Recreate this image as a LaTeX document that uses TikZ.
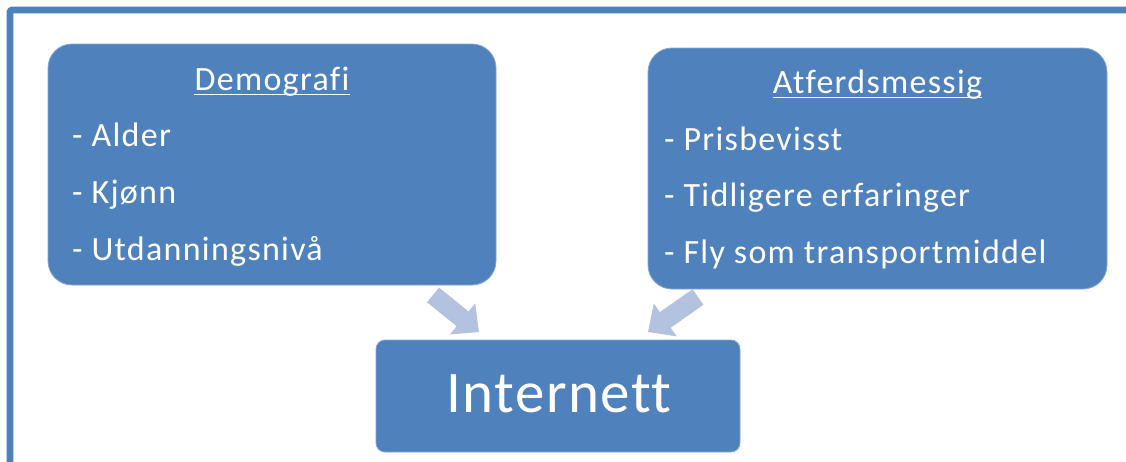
\documentclass[tikz,border=0pt]{standalone}
\usepackage{fontspec}
\setmainfont{Carlito}[Ligatures=NoCommon]
\newfontfamily\smallfont{Carlito}[LetterSpace=3.8,Ligatures=NoCommon]
\newfontfamily\bigfont{Carlito}[LetterSpace=2.5,Ligatures=NoCommon]
\definecolor{boxblue}{HTML}{4F81BD}
\definecolor{arrowblue}{HTML}{B3C2DE}
\tikzset{
  bigbox/.style={fill=boxblue, draw=boxblue!70!white, line width=0.8pt, rounded corners=24pt},
  midbox/.style={fill=boxblue, draw=boxblue!70!white, line width=0.8pt, rounded corners=9pt},
  itemtext/.style={text=white, font=\smallfont\fontsize{34}{38}\selectfont, inner sep=0pt, anchor=base west},
  headtext/.style={text=white, font=\smallfont\fontsize{34}{38}\selectfont, inner sep=0pt, anchor=base},
  blockarrow/.style={fill=arrowblue},
}
\begin{document}
\begin{tikzpicture}[x=1pt,y=-1pt]
\useasboundingbox (0,0) rectangle (1126,461);
\fill[white] (0,0) rectangle (1126,461);
\begin{scope}
\clip (0,0) rectangle (1126,461);
\draw[boxblue, line width=6.6pt, rounded corners=2pt] (10,480) -- (10,10) -- (1140,10);
\end{scope}
% boxes
\path[bigbox] (48,44) rectangle (496,285);
\node[name=b1, minimum width=0pt, inner sep=0pt] at (272,164) {};
\path[bigbox] (648,48) rectangle (1107,289);
\node[name=b2, minimum width=0pt, inner sep=0pt] at (877.5,168) {};
\path[midbox] (376,340) rectangle (740,452);
\node[name=c, text=white, font=\bigfont\fontsize{59}{64}\selectfont, inner sep=0pt, anchor=base] at (559,412) {Internett};
% left box text
\node[headtext, name=h1] at (272,90) {Demografi};
\draw[white, line width=1.8pt] ([yshift=-4.5pt]h1.base west) -- ([yshift=-4.5pt]h1.base east);
\node[itemtext, name=a1] at (72,146.5) {- Alder};
\node[itemtext, name=a2] at (72,203) {- Kjønn};
\node[itemtext, name=a3] at (72,260) {- Utdanningsnivå};
% right box text
\node[headtext, name=h2] at (877.5,93) {Atferdsmessig};
\draw[white, line width=1.8pt] ([yshift=-4.5pt]h2.base west) -- ([yshift=-4.5pt]h2.base east);
\node[itemtext, name=p1] at (664,150) {- Prisbevisst};
\node[itemtext, name=p2] at (664,206.5) {- Tidligere erfaringer};
\node[itemtext, name=p3] at (664,263) {- Fly som transportmiddel};
% block arrows
\fill[blockarrow, shift={(456,313.5)}, rotate=-39]
  (-29.5,-9.5) -- (8.5,-9.5) -- (8.5,-20) -- (29.5,0) -- (8.5,20) -- (8.5,9.5) -- (-29.5,9.5) -- cycle;
\fill[blockarrow, shift={(673,314.5)}, rotate=-145]
  (-30.5,-9.5) -- (9.5,-9.5) -- (9.5,-20) -- (30.5,0) -- (9.5,20) -- (9.5,9.5) -- (-30.5,9.5) -- cycle;
\end{tikzpicture}
\end{document}
